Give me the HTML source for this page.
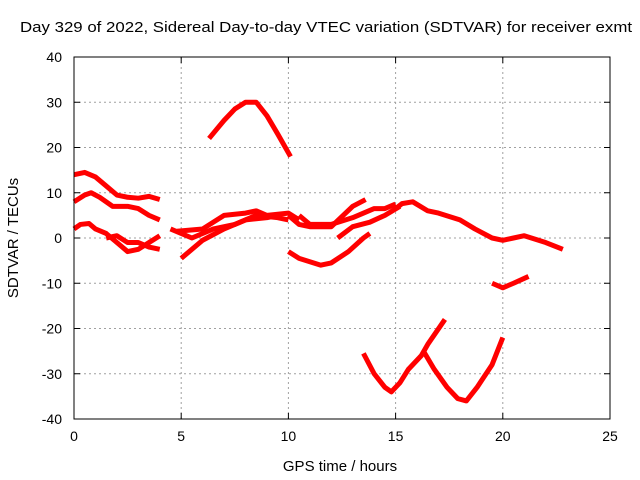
<!DOCTYPE html>
<html><head><meta charset="utf-8"><style>
body{margin:0;background:#fff;}
svg{display:block;font-family:"Liberation Sans",sans-serif;}
</style></head><body>
<svg id="chart" width="640" height="480">
<rect width="640" height="480" fill="#fff"/>
<text x="20" y="32" font-size="15" textLength="612" lengthAdjust="spacingAndGlyphs">Day 329 of 2022, Sidereal Day-to-day VTEC variation (SDTVAR) for receiver exmt</text>
<g id="grid"></g><g id="series"></g><g id="axes"></g>
<text x="340" y="471" font-size="15" text-anchor="middle">GPS time / hours</text>
<text x="18" y="238" font-size="15" text-anchor="middle" transform="rotate(-90 18 238)">SDTVAR / TECUs</text>
</svg>
<script>
const xTicks=[0,5,10,15,20,25];
const yTicks=[-40,-30,-20,-10,0,10,20,30,40];
const series1=[[0,14],[0.5,14.5],[1,13.5],[1.5,11.5],[2,9.5],[2.5,9],[3,8.8],[3.5,9.2],[4,8.5]];
const series2=[[0,8],[0.5,9.5],[0.8,10],[1.2,9],[1.8,7],[2.5,7],[3,6.5],[3.5,5],[4,4]];
const series3=[[0,2],[0.3,3],[0.7,3.2],[1,2],[1.5,1],[2,-1],[2.5,-3],[3,-2.5],[3.5,-1],[4,0.5]];
const series4=[[1.5,0],[2,0.5],[2.5,-1],[3,-1],[3.5,-2],[4,-2.5]];
const series5=[[4.8,1.5],[6,2],[7,5],[8,5.5],[8.5,6],[9,5],[10,5.5],[10.5,4]];
const series6=[[4.5,2],[5.5,0],[6.5,2],[7.5,3],[8.5,5],[9.5,4.5],[10,4]];
const series7=[[5,-4.5],[6,-0.5],[7,2],[8,4],[9,4.5],[9.5,5]];
const series8=[[6.3,22],[7,26],[7.5,28.5],[8,30],[8.5,30],[9,27],[9.5,23],[10.1,18]];
const series9=[[10,5],[10.5,3],[11,2.5],[12,2.5],[13,7],[13.6,8.5]];
const series10=[[10.5,5],[11,3],[12,3],[13,4.5],[14,6.5],[14.5,6.5],[15,7.5]];
const series11=[[12.3,0],[13,2.5],[13.8,3.5],[14.5,5],[15.2,7]];
const series12=[[15,6.5],[15.3,7.6],[15.8,8],[16.5,6],[17,5.5],[18,4],[18.7,2],[19.5,0],[20,-0.5],[20.5,0],[21,0.5],[22,-1],[22.8,-2.5]];
const series13=[[10,-3],[10.5,-4.5],[11.5,-6],[12,-5.5],[12.8,-3],[13.5,0],[13.8,1]];
const series14=[[19.5,-10],[20,-11],[20.5,-10],[21.2,-8.5]];
const series15=[[13.5,-25.5],[14,-30],[14.5,-33],[14.8,-34],[15.2,-32],[15.6,-29],[16.2,-26],[16.5,-23.5],[17.3,-18]];
const series16=[[16.3,-25],[16.8,-29],[17.4,-33],[17.9,-35.5],[18.3,-36],[18.8,-33],[19.5,-28],[20,-22]];
const allSeries=[series1,series2,series3,series4,series5,series6,series7,series8,series9,series10,series11,series12,series13,series14,series15,series16];
const L=74,R=610,T=57,B=419;
const sx=v=>L+(v-0)/(25-0)*(R-L);
const sy=v=>B-(v+40)/80*(B-T);
const NS="http://www.w3.org/2000/svg";
const g=document.getElementById('grid'),s=document.getElementById('series'),a=document.getElementById('axes');
function mk(p,tag,at){const e=document.createElementNS(NS,tag);for(const k in at)e.setAttribute(k,at[k]);p.appendChild(e);return e;}
xTicks.forEach(t=>{
 const x=sx(t);
 if(t>0&&t<25){const l=mk(g,'line',{x1:x,x2:x,y1:T,y2:B,stroke:'#a0a0a0','stroke-dasharray':'2,3'});
 
 }
 const tx=mk(a,'text',{x:x,y:B+22,'font-size':14,'text-anchor':'middle'});tx.textContent=t;
 
 
 mk(a,'line',{x1:x,x2:x,y1:B,y2:B-6,stroke:'#000'});mk(a,'line',{x1:x,x2:x,y1:T,y2:T+6,stroke:'#000'});
});
yTicks.forEach(t=>{
 const y=sy(t);
 if(t>-40&&t<40){const l=mk(g,'line',{x1:L,x2:R,y1:y,y2:y,stroke:'#a0a0a0','stroke-dasharray':'2,3'});
 
 }
 const tx=mk(a,'text',{x:L-12,y:y+5,'font-size':14,'text-anchor':'end'});tx.textContent=t;
 
 
 mk(a,'line',{x1:L,x2:L+6,y1:y,y2:y,stroke:'#000'});mk(a,'line',{x1:R,x2:R-6,y1:y,y2:y,stroke:'#000'});
});
const fr=mk(a,'rect',{x:L,y:T,width:R-L,height:B-T,fill:'none',stroke:'#000'});


allSeries.forEach(d=>{
 const p=mk(s,'polyline',{points:d.map(q=>sx(q[0])+','+sy(q[1])).join(' '),fill:'none',stroke:'#ff0000','stroke-width':5,'stroke-linejoin':'round'});
 
 
});
</script>
</body></html>
